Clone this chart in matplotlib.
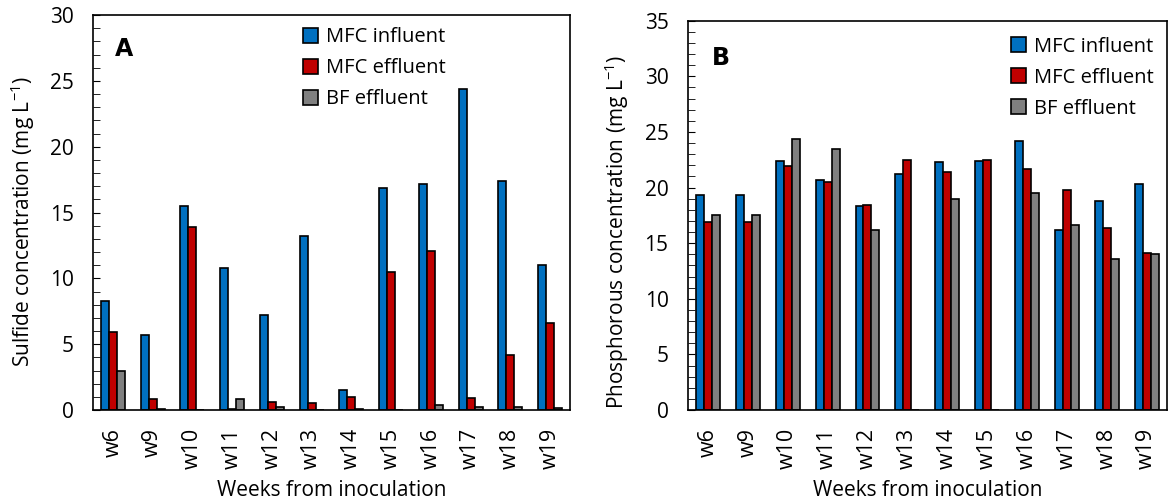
import numpy as np
import matplotlib
matplotlib.use('Agg')
import matplotlib.pyplot as plt

plt.rcParams['font.family'] = ['Open Sans', 'DejaVu Sans']
plt.rcParams['mathtext.fontset'] = 'custom'
plt.rcParams['mathtext.rm'] = 'Open Sans'
plt.rcParams['mathtext.it'] = 'Open Sans'

weeks = ['w6', 'w9', 'w10', 'w11', 'w12', 'w13', 'w14', 'w15', 'w16', 'w17', 'w18', 'w19']
series = ['MFC influent', 'MFC effluent', 'BF effluent']
colors = ['#0070C0', '#C00000', '#808080']

sulfide_in = [8.3, 5.7, 15.5, 10.8, 7.2, 13.2, 1.5, 16.9, 17.2, 24.4, 17.4, 11.0]
sulfide_mfc = [5.9, 0.8, 13.9, 0.1, 0.6, 0.5, 1.0, 10.5, 12.1, 0.9, 4.2, 6.6]
sulfide_bf = [3.0, 0.05, 0.0, 0.8, 0.2, 0.0, 0.05, 0.0, 0.4, 0.2, 0.2, 0.15]

phos_in = [19.3, 19.3, 22.4, 20.7, 18.3, 21.2, 22.3, 22.4, 24.2, 16.2, 18.8, 20.3]
phos_mfc = [16.9, 16.9, 21.9, 20.5, 18.4, 22.5, 21.4, 22.5, 21.7, 19.8, 16.4, 14.1]
phos_bf = [17.5, 17.5, 24.4, 23.5, 16.2, 0.0, 19.0, 0.0, 19.5, 16.6, 13.6, 14.0]


def bar_panel(ax, data, ymax, ylabel, label_xy):
    x = np.arange(len(weeks))
    w = 0.2
    for i, (vals, c, name) in enumerate(zip(data, colors, series)):
        ax.bar(x + (i - 1) * w, vals, w, color=c, edgecolor='black',
               linewidth=1.2, label=name)
    ax.set_xlim(-0.5, len(weeks) - 0.5)
    ax.set_ylim(0, ymax)
    ax.set_yticks(np.arange(0, ymax + 1, 5))
    ax.set_yticks(np.arange(0, ymax + 1, 1), minor=True)
    ax.tick_params(axis='y', which='both', direction='in', labelsize=15)
    ax.tick_params(axis='y', which='major', length=5, pad=14)
    ax.tick_params(axis='y', which='minor', length=5)
    ax.set_xticks(x)
    ax.set_xticklabels(weeks, rotation=90, fontsize=15.5)
    ax.tick_params(axis='x', length=0, pad=13)
    ax.set_ylabel(ylabel, fontsize=15)
    ax.yaxis.set_label_coords(*label_xy)
    ax.set_xlabel('Weeks from inoculation', fontsize=15, labelpad=8)
    for s in ax.spines.values():
        s.set_linewidth(1.2)
    return ax


fig = plt.figure(figsize=(11.69, 5.04), dpi=100)
axA = fig.add_axes([0.0796, 0.1865, 0.408, 0.7835])
axB = fig.add_axes([0.5885, 0.1865, 0.4095, 0.7725])

bar_panel(axA, [sulfide_in, sulfide_mfc, sulfide_bf], 30,
          'Sulfide concentration (mg L$^{-1}$)', (-0.118, 0.476))
bar_panel(axB, [phos_in, phos_mfc, phos_bf], 35,
          'Phosphorous concentration (mg L$^{-1}$)', (-0.12, 0.458))

axA.text(0.045, 0.915, 'A', transform=axA.transAxes, fontsize=17,
         fontweight='bold', va='center', family='DejaVu Sans')
axB.text(0.05, 0.905, 'B', transform=axB.transAxes, fontsize=17,
         fontweight='bold', va='center', family='DejaVu Sans')

axA.legend(loc='upper left', bbox_to_anchor=(0.41, 1.005), frameon=False,
           fontsize=14.5, handlelength=0.75, handleheight=0.75, handletextpad=0.4,
           labelspacing=0.55, borderaxespad=0.3)
axB.legend(loc='upper left', bbox_to_anchor=(0.645, 0.995), frameon=False,
           fontsize=14.5, handlelength=0.75, handleheight=0.75, handletextpad=0.4,
           labelspacing=0.55, borderaxespad=0.3)

fig.savefig('out.png', dpi=100)
